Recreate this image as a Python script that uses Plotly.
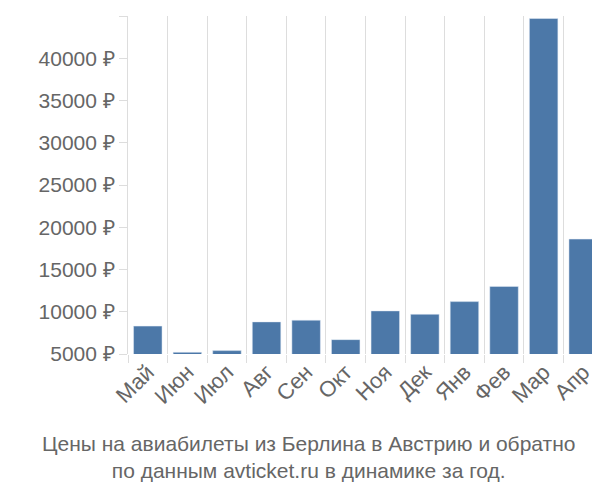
import plotly.graph_objects as go

months = ["Май","Июн","Июл","Авг","Сен","Окт","Ноя","Дек","Янв","Фев","Мар","Апр"]
prices = [8300,5200,5400,8800,9000,6700,10100,9700,11200,13000,44700,18600]
yticks = [5000,10000,15000,20000,25000,30000,35000,40000,45000]

fig = go.Figure(go.Bar(x=months, y=prices, marker_color="#4c78a8", width=0.72))
fig.update_layout(
    width=600, height=500, margin=dict(l=120, r=5, t=8, b=154),
    plot_bgcolor="white", paper_bgcolor="white",
    font=dict(family="Liberation Sans, Arial", size=21, color="#666"),
    showlegend=False,
)
fig.update_xaxes(tickangle=-45, tickson="boundaries", showgrid=True, gridcolor="#ddd",
                 ticks="outside", ticklen=8, tickcolor="#ddd", showline=False,
                 tickfont=dict(size=22))
fig.update_yaxes(range=[5000,45000], tickvals=yticks, ticktext=[f"{v} ₽" for v in yticks],
                 showgrid=False, showline=True, linecolor="#ddd", ticks="outside",
                 ticklen=8, tickcolor="#ddd", tickfont=dict(size=21))
fig.add_annotation(text="Цены на авиабилеты из Берлина в Австрию и обратно<br>по данным avticket.ru в динамике за год.",
                   xref="paper", yref="paper", x=(300-120)/475, xanchor="center", y=0, yshift=-76, yanchor="top",
                   showarrow=False, font=dict(size=21, color="#666"))
fig.write_html("out.html")
